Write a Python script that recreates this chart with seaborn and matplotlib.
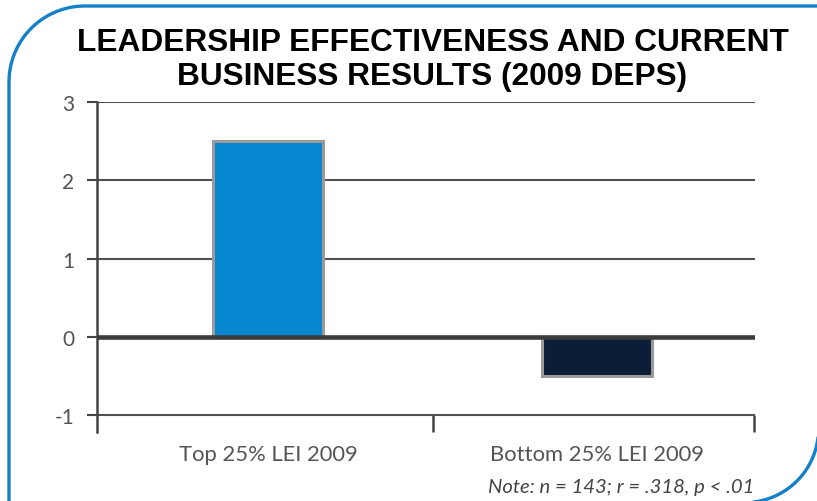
import matplotlib
matplotlib.use("Agg")
import matplotlib.pyplot as plt
import numpy as np
import seaborn as sns
from matplotlib.lines import Line2D

categories = ["Top 25% LEI 2009", "Bottom 25% LEI 2009"]
values = [2.5, -0.5]
bar_colors = ["#0786CF", "#0B1D37"]
yticks = [-1, 0, 1, 2, 3]
title = "LEADERSHIP EFFECTIVENESS AND CURRENT\nBUSINESS RESULTS (2009 DEPS)"
note = "Note: n = 143; r = .318, p < .01"

W, H = 817, 502

sns.set_theme(style="white")
plt.rcParams["font.family"] = ["Lato", "DejaVu Sans"]

fig = plt.figure(figsize=(W / 100, H / 100), dpi=100)
ax = fig.add_axes([97 / W, 69 / H, 658 / W, 330 / H])

sns.barplot(x=categories, y=values, hue=categories, palette=bar_colors,
            legend=False, width=0.334, edgecolor="#9a9a9a", linewidth=2.2,
            saturation=1, ax=ax, zorder=2)

ax.set_xlim(-0.52, 1.48)
ax.set_ylim(-1.217, 3)
ax.set_yticks(yticks)
ax.set_yticklabels([str(t) for t in yticks])
ax.set_axisbelow(True)
ax.grid(axis="y", color="#505050", linewidth=1.5)
ax.grid(axis="x", visible=False)
ax.axhline(0, color="#3c3c3c", linewidth=3.3, zorder=3)

for s in ["top", "right", "bottom"]:
    ax.spines[s].set_visible(False)
ax.spines["left"].set_color("#444444")
ax.spines["left"].set_linewidth(1.8)

ax.tick_params(axis="y", which="major", left=True, length=7.5, width=1.5,
               color="#444444", pad=9, labelsize=15, labelcolor="#555555")
ax.set_xticks([0, 1])
ax.set_xticklabels(categories)
ax.tick_params(axis="x", which="major", bottom=False, pad=3, labelsize=15.8,
               labelcolor="#555555")
ax.set_xticks([0.5, 1.478], minor=True)
ax.tick_params(axis="x", which="minor", bottom=True, direction="in",
               length=12.3, width=1.8, color="#444444")
ax.set_xlabel("")
ax.set_ylabel("")

fig.text(0.5 * (75 + 790) / W, 1 - 60 / H, title, ha="center", va="center",
         fontsize=22.8, fontweight="bold", family=["Liberation Sans", "DejaVu Sans"],
         color="black", linespacing=1.2)
fig.text(754 / W, 1 - 488 / H, note, ha="right", va="center", fontsize=14.6,
         style="italic", color="#444444")

# decorative frame: rounded top-left and bottom-right corners (pixel coords from top)
frame_color = "#1380C8"
R1, cx1, cy1 = 76, 9 + 76, 7 + 76
t = np.linspace(np.pi, np.pi / 2, 60)
px = np.concatenate([[9], cx1 + R1 * np.cos(t), [W + 10]])
py = np.concatenate([[H + 10], cy1 - R1 * np.sin(t), [7]])
fig.add_artist(Line2D(px / W, 1 - py / H, transform=fig.transFigure,
                      color=frame_color, linewidth=2.4, clip_on=False,
                      solid_capstyle="butt"))
R2, cx2, cy2 = 73.5, 745, 430
t2 = np.linspace(0, np.pi / 2, 60)
qx = cx2 + R2 * np.cos(t2)
qy = cy2 + R2 * np.sin(t2)
fig.add_artist(Line2D(qx / W, 1 - qy / H, transform=fig.transFigure,
                      color=frame_color, linewidth=2.4, clip_on=False))

fig.savefig("out.png", dpi=100)
